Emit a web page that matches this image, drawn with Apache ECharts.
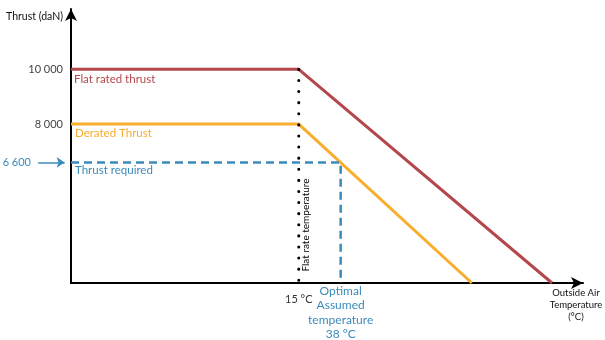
<!DOCTYPE html>
<html>
<head>
<meta charset="utf-8">
<script src="https://cdn.jsdelivr.net/npm/echarts@6/dist/echarts.min.js"></script>
<style>
  html, body { margin: 0; padding: 0; background: #fff; }
  #chart { width: 605px; height: 340px; }
</style>
</head>
<body>
<div id="chart"></div>
<script>
// Temperatures (°C) and thrust values (daN) of the schematic
const xMin = -110, xMax = 171;
const yMin = 2200, yMax = 12200;
const flatRatedTemp = 15;
const assumedTemp = 38;
const flatRatedThrust = [[xMin, 10000], [flatRatedTemp, 10000], [154, yMin]];
const deratedThrust = [[xMin, 8000], [flatRatedTemp, 8000], [110, yMin]];
const requiredThrust = 6600;
const yTickValues = [6600, 8000, 10000];
const xTickValues = [15];
const pointerFrom = -128, pointerTo = -113.5;

const RED = '#b4474b', ORANGE = '#f8ad2c', BLUE = '#3a8bbb';
const FONT = 'Lato';

function fmtThousands(v) {
  return String(v).replace(/\B(?=(\d{3})+(?!\d))/g, ' ');
}

const chart = echarts.init(document.getElementById('chart'), null, { renderer: 'canvas' });
chart.setOption({
  animation: false,
  textStyle: { fontFamily: FONT },
  grid: { left: 71, right: 22, top: 9, bottom: 57, outerBoundsMode: 'none', containLabel: false },
  xAxis: {
    type: 'value', min: xMin, max: xMax,
    splitLine: { show: false },
    axisLine: { onZero: false, lineStyle: { color: '#000', width: 2 }, symbol: ['none', 'arrow'], symbolSize: [9, 12] },
    axisTick: { show: false },
    axisLabel: {
      customValues: xTickValues,
      margin: 9,
      formatter: v => v + ' °C',
      color: '#333', fontSize: 11, fontFamily: FONT, padding: [2, 0, 0, 0]
    },
    name: 'Outside Air\nTemperature\n(°C)',
    nameLocation: 'end', nameGap: -7,
    nameTextStyle: { color: '#111', fontSize: 9.5, fontFamily: FONT, align: 'center', verticalAlign: 'top', lineHeight: 12, padding: [4, 0, 0, 0] }
  },
  yAxis: {
    type: 'value', min: yMin, max: yMax,
    splitLine: { show: false },
    axisLine: { onZero: false, lineStyle: { color: '#000', width: 2 }, symbol: ['none', 'arrow'], symbolSize: [9, 12] },
    axisTick: { show: false },
    axisLabel: {
      customValues: yTickValues,
      margin: 8,
      formatter: v => v === requiredThrust ? '{req|' + fmtThousands(v) + '}' : '{n|' + fmtThousands(v) + '}',
      rich: {
        n: { color: '#444', fontSize: 11, fontFamily: FONT },
        req: { color: BLUE, fontSize: 11, fontFamily: FONT, padding: [0, 32, 0, 0] }
      }
    },
    name: 'Thrust (daN)',
    nameLocation: 'end', nameGap: -8,
    nameTextStyle: { color: '#111', fontSize: 10.5, fontFamily: FONT, align: 'right', verticalAlign: 'middle', padding: [0, 8, 0, 0] }
  },
  series: [
    {
      type: 'line', data: flatRatedThrust.map((p, i) => i === 0 ? {
        value: p,
        label: { show: true, position: 'right', distance: 0, offset: [3, 10], formatter: 'Flat rated thrust', color: RED, fontSize: 11.5, fontFamily: FONT }
      } : p),
      symbol: 'circle', symbolSize: 0.01, showSymbol: true,
      lineStyle: { color: RED, width: 3 }, itemStyle: { color: RED }, z: 3
    },
    {
      type: 'line', data: deratedThrust.map((p, i) => i === 0 ? {
        value: p,
        label: { show: true, position: 'right', distance: 0, offset: [4, 9], formatter: 'Derated Thrust', color: ORANGE, fontSize: 11.5, fontFamily: FONT }
      } : p),
      symbol: 'circle', symbolSize: 0.01, showSymbol: true,
      lineStyle: { color: ORANGE, width: 3 }, itemStyle: { color: ORANGE }, z: 3
    },
    {
      // thrust required: horizontal dashed line to the assumed temperature, then down to the axis
      type: 'line', data: [
        { value: [xMin, requiredThrust], label: { show: true, position: 'right', distance: 0, offset: [4, 8], formatter: 'Thrust required', color: BLUE, fontSize: 11.5, fontFamily: FONT } },
        [assumedTemp, requiredThrust],
        { value: [assumedTemp, yMin], label: {
            show: true, position: 'bottom', distance: 1,
            formatter: 'Optimal\nAssumed\ntemperature\n' + assumedTemp + ' °C',
            color: BLUE, fontSize: 12, fontFamily: FONT, lineHeight: 14.3, align: 'center'
        } }
      ],
      symbol: 'circle', symbolSize: 0.01, showSymbol: true,
      lineStyle: { color: BLUE, width: 2.5, type: [8, 5] }, itemStyle: { color: BLUE }, z: 4
    },
    {
      // pointer to the required thrust value on the axis
      type: 'lines', coordinateSystem: 'cartesian2d', clip: false, silent: true,
      symbol: ['none', 'arrow'], symbolSize: 8,
      lineStyle: { color: BLUE, width: 1.5, opacity: 1 },
      data: [{ coords: [[pointerFrom, requiredThrust], [pointerTo, requiredThrust]] }],
      z: 4
    },
    {
      // flat rate temperature marker
      type: 'line', data: [[flatRatedTemp, 10000], [flatRatedTemp, yMin]],
      symbol: 'none',
      lineStyle: { color: '#000', width: 3, type: [0.1, 11], cap: 'round' }, z: 5
    }
  ],
  graphic: [
    {
      type: 'text', x: 306, y: 225, rotation: Math.PI / 2,
      style: { text: 'Flat rate temperature', fill: '#000', fontSize: 10, fontFamily: FONT, align: 'center', verticalAlign: 'middle' }
    }
  ]
});
</script>
</body>
</html>
